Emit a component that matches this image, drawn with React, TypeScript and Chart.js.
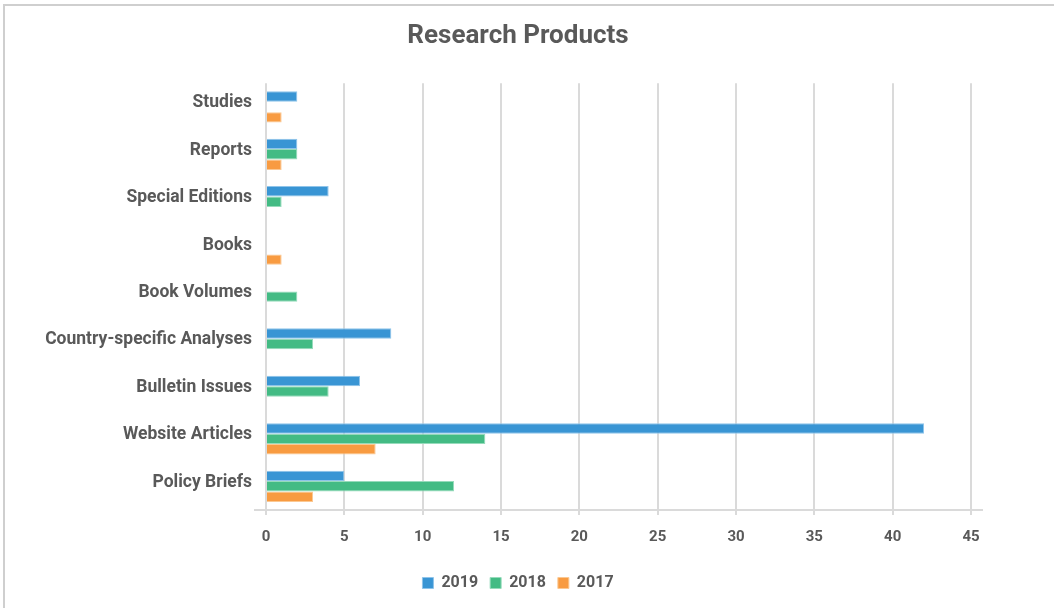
import React, { useEffect, useRef } from "react";
import { Chart, registerables } from "chart.js";

Chart.register(...registerables);

const categories = [
  "Studies",
  "Reports",
  "Special Editions",
  "Books",
  "Book Volumes",
  "Country-specific Analyses",
  "Bulletin Issues",
  "Website Articles",
  "Policy Briefs",
];
const values2019 = [2, 2, 4, 0, 0, 8, 6, 42, 5];
const values2018 = [0, 2, 1, 0, 2, 3, 4, 14, 12];
const values2017 = [1, 1, 0, 1, 0, 0, 0, 7, 3];
const seriesLabels = ["2019", "2018", "2017"];
const xMax = 45;
const xStep = 5;

const TEXT = "#595959";
const GRID = "#dadada";

const axisLinePlugin = {
  id: "axisLine",
  afterDatasetsDraw(chart: any) {
    const { ctx, chartArea } = chart;
    ctx.save();
    ctx.strokeStyle = GRID;
    ctx.lineWidth = 2;
    ctx.beginPath();
    ctx.moveTo(chartArea.left - 12, chartArea.bottom);
    ctx.lineTo(chartArea.right + 12, chartArea.bottom);
    ctx.stroke();
    ctx.restore();
  },
};

export default function App() {
  const ref = useRef<HTMLCanvasElement>(null);
  useEffect(() => {
    if (!ref.current) return;
    Chart.defaults.font.family = "Roboto";
    Chart.defaults.color = TEXT;
    const chart = new Chart(ref.current, {
      type: "bar",
      data: {
        labels: categories,
        datasets: [
          {
            label: seriesLabels[0],
            data: values2019,
            backgroundColor: "#3995d4",
            borderColor: "#8fc4ea",
            borderWidth: 1,
          },
          {
            label: seriesLabels[1],
            data: values2018,
            backgroundColor: "#43bb84",
            borderColor: "#96dbbb",
            borderWidth: 1,
          },
          {
            label: seriesLabels[2],
            data: values2017,
            backgroundColor: "#f89b41",
            borderColor: "#fbc892",
            borderWidth: 1,
          },
        ],
      },
      options: {
        indexAxis: "y",
        responsive: false,
        animation: false,
        layout: { padding: { top: 21, right: 18, bottom: 7, left: 0 } },
        datasets: {
          bar: { categoryPercentage: 0.66, barPercentage: 1 },
        },
        plugins: {
          title: {
            display: true,
            text: "Research Products",
            color: TEXT,
            font: { size: 26, weight: "bold" },
            padding: { top: 0, bottom: 31 },
          },
          legend: {
            position: "bottom",
            labels: {
              boxWidth: 11,
              boxHeight: 11,
              padding: 12,
              color: TEXT,
              font: { size: 16, weight: "bold" },
            },
          },
          tooltip: { enabled: false },
        },
        scales: {
          x: {
            min: 0,
            max: xMax,
            ticks: {
              stepSize: xStep,
              color: TEXT,
              padding: 13,
              font: { size: 15, weight: "bold" },
            },
            grid: { color: GRID, lineWidth: 2, tickLength: 5 },
            border: { display: false },
            afterFit(scale: any) {
              scale.height = 53;
            },
          },
          y: {
            ticks: {
              color: TEXT,
              padding: 14,
              labelOffset: -4,
              font: { size: 17.5, weight: "bold" },
            },
            grid: { display: false, drawTicks: false },
            border: { display: false },
            afterFit(scale: any) {
              scale.width = 266;
            },
          },
          yRight: {
            type: "category",
            axis: "y",
            position: "right",
            ticks: { display: false },
            grid: { display: false, drawTicks: false },
            border: { display: false },
            afterFit(scale: any) {
              scale.width = 65;
            },
          },
        },
      },
      plugins: [axisLinePlugin],
    });
    return () => chart.destroy();
  }, []);
  return (
    <div style={{ position: "fixed", left: 0, top: 0, width: 1054, height: 608, background: "#fff" }}>
      <div
        style={{
          position: "absolute",
          left: 3,
          top: 4,
          width: 1100,
          height: 700,
          borderLeft: "2px solid #cfcfcf",
          borderTop: "2px solid #cfcfcf",
        }}
      />
      <canvas
        ref={ref}
        width={1054}
        height={608}
        style={{ position: "absolute", left: 0, top: 0 }}
      />
    </div>
  );
}
